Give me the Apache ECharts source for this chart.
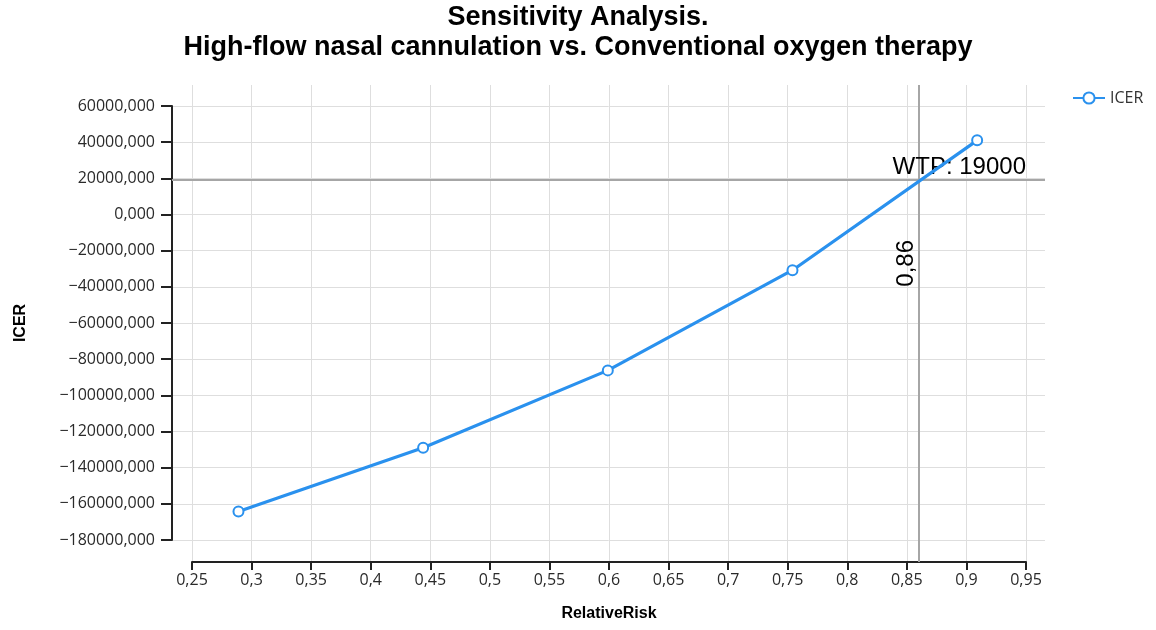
<!DOCTYPE html>
<html>
<head>
<meta charset="utf-8">
<script src="https://cdn.jsdelivr.net/npm/echarts@6/dist/echarts.min.js"></script>
<style>
  html, body { margin: 0; padding: 0; background: #fff; }
  #chart { width: 1156px; height: 630px; }
</style>
</head>
<body>
<div id="chart"></div>
<script>
// ---- Data ----
const titleLines = ['Sensitivity Analysis.', 'High-flow nasal cannulation vs. Conventional oxygen therapy'];
const seriesName = 'ICER';
const relativeRisk = [0.289, 0.444, 0.599, 0.754, 0.909];
const icer = [-164200, -129000, -86200, -30800, 41000];
const wtpValue = 19000;
const wtpLabel = 'WTP: 19000';
const thresholdRR = 0.862;
const thresholdLabel = '0,86';
const xTickRange = [0.25, 0.95, 0.05];      // min, max, step
const yTickRange = [-180000, 60000, 20000]; // min, max, step
const xAxisTitle = 'RelativeRisk';
const yAxisTitle = 'ICER';

// ---- Layout helpers (pixel geometry of the plot) ----
const W = 1156, H = 630;
const innerLeft = 192, innerRight = 1026, innerTop = 106, innerBottom = 540;
const outerLeft = 172, outerRight = 1045, outerTop = 85, outerBottom = 562;
const xPerPx = (xTickRange[1] - xTickRange[0]) / (innerRight - innerLeft);
const yPerPx = (yTickRange[1] - yTickRange[0]) / (innerBottom - innerTop);
const outerXMin = xTickRange[0] - (innerLeft - outerLeft) * xPerPx;
const outerXMax = xTickRange[1] + (outerRight - innerRight) * xPerPx;
const outerYMin = yTickRange[0] - (outerBottom - innerBottom) * yPerPx;
const outerYMax = yTickRange[1] + (innerTop - outerTop) * yPerPx;

const points = relativeRisk.map((x, i) => [x, icer[i]]);
const blue = '#2a91ee';
const labelFont = 'Open Sans';

function fmtX(v) {
  return String(Math.round(v * 100) / 100).replace('.', ',');
}
function fmtY(v) {
  const s = Math.abs(v).toFixed(3).replace('.', ',');
  return (v < 0 ? '\u2212' : '') + s;
}

const chart = echarts.init(document.getElementById('chart'), null, { renderer: 'canvas' });
chart.setOption({
  animation: false,
  backgroundColor: '#ffffff',
  title: {
    text: titleLines.join('\n'),
    left: 'center',
    top: 3,
    padding: 0,
    textStyle: {
      fontFamily: 'Liberation Sans',
      fontSize: 27,
      fontWeight: 'bold',
      lineHeight: 30,
      color: '#000',
      align: 'center'
    }
  },
  legend: {
    left: 1072,
    top: 90,
    padding: 0,
    itemWidth: 32,
    itemHeight: 14,
    itemGap: 6,
    textStyle: { fontFamily: labelFont, fontSize: 16, color: '#333' },
    data: [seriesName]
  },
  grid: [
    { left: outerLeft, right: W - outerRight, top: outerTop, bottom: H - outerBottom, containLabel: false },
    { left: innerLeft, right: W - innerRight, top: innerTop, bottom: H - innerBottom, containLabel: false }
  ],
  xAxis: [
    {
      gridIndex: 0, type: 'value',
      min: outerXMin, max: outerXMax,
      splitNumber: 15, minInterval: xTickRange[2], maxInterval: xTickRange[2],
      axisLine: { show: false }, axisTick: { show: false }, axisLabel: { show: false },
      splitLine: { show: true, showMinLine: false, showMaxLine: false, lineStyle: { color: '#dedede', width: 1 } }
    },
    {
      gridIndex: 1, type: 'value',
      min: xTickRange[0], max: xTickRange[1], interval: xTickRange[2],
      offset: outerBottom - innerBottom,
      axisLine: { show: true, onZero: false, lineStyle: { color: '#222', width: 2 } },
      axisTick: { show: true, length: 8, lineStyle: { color: '#222', width: 2 } },
      axisLabel: { show: true, margin: 10, fontFamily: labelFont, fontSize: 16, color: '#2a2a2a', formatter: fmtX },
      splitLine: { show: false },
      name: xAxisTitle, nameLocation: 'middle', nameGap: 44,
      nameTextStyle: { fontFamily: 'Liberation Sans', fontWeight: 'bold', fontSize: 16, color: '#000' }
    }
  ],
  yAxis: [
    {
      gridIndex: 0, type: 'value',
      min: outerYMin, max: outerYMax,
      splitNumber: 13, minInterval: yTickRange[2], maxInterval: yTickRange[2],
      axisLine: { show: false }, axisTick: { show: false }, axisLabel: { show: false },
      splitLine: { show: true, showMinLine: false, showMaxLine: false, lineStyle: { color: '#dedede', width: 1 } }
    },
    {
      gridIndex: 1, type: 'value',
      min: yTickRange[0], max: yTickRange[1], interval: yTickRange[2],
      offset: innerLeft - outerLeft,
      axisLine: { show: true, onZero: false, lineStyle: { color: '#222', width: 2 } },
      axisTick: { show: true, length: 11, lineStyle: { color: '#222', width: 2 } },
      axisLabel: { show: true, margin: 17, fontFamily: labelFont, fontSize: 16, color: '#2a2a2a', formatter: fmtY },
      splitLine: { show: false },
      name: yAxisTitle, nameLocation: 'middle', nameGap: 143,
      nameTextStyle: { fontFamily: 'Liberation Sans', fontWeight: 'bold', fontSize: 16, color: '#000' }
    }
  ],
  series: [
    {
      name: seriesName,
      type: 'line',
      xAxisIndex: 0, yAxisIndex: 0,
      data: points,
      symbol: 'emptyCircle',
      symbolSize: 10,
      showAllSymbol: true,
      z: 5,
      lineStyle: { color: blue, width: 3.2 },
      itemStyle: { color: blue, borderColor: blue, borderWidth: 2 },
      markLine: {
        silent: true,
        symbol: 'none',
        z: 3,
        lineStyle: { color: '#a6a6a6', width: 2, type: 'solid' },
        label: { fontFamily: 'Liberation Sans', fontSize: 24, color: '#000' },
        data: [
          { yAxis: wtpValue, label: { formatter: wtpLabel, position: 'insideEndTop', distance: [19, 1] } },
          { xAxis: thresholdRR, label: { formatter: thresholdLabel, position: 'insideEndTop', distance: [155, 0] } }
        ]
      }
    }
  ]
});
</script>
</body>
</html>
